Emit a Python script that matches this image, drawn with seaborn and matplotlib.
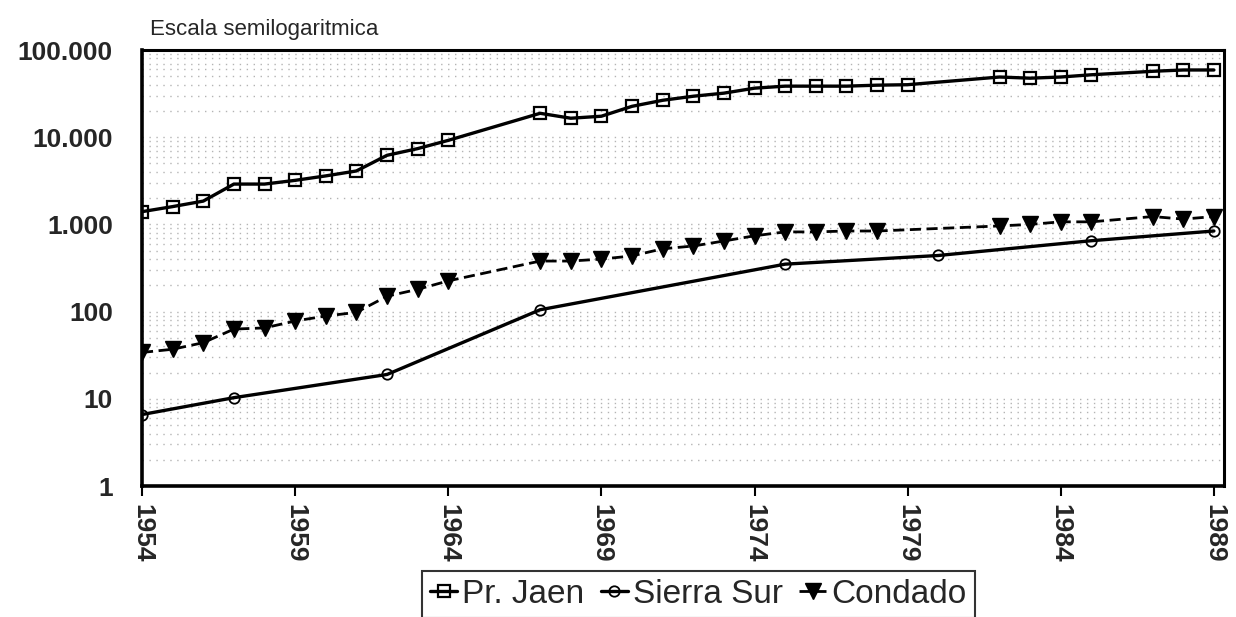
import numpy as np
import pandas as pd
import matplotlib
matplotlib.use("Agg")
import matplotlib.pyplot as plt
import seaborn as sns
from matplotlib.ticker import FixedLocator, LogLocator, NullFormatter

nan = np.nan
years = list(range(1954, 1990))
pr_jaen = [1400, 1600, 1850, 2900, 2900, 3200, 3600, 4100, 6200, 7400, 9200, nan,
           nan, 18800, 16500, 17400, 22600, 26500, 29500, 32000, 36500, 38500, 38500,
           38500, 39500, 40000, nan, nan, 49000, 47500, 49000, 52000, nan, 57000,
           59000, 59000]
sierra_sur = [6.6, nan, nan, 10.3, nan, nan, nan, nan, 19, nan, nan, nan,
              nan, 105, nan, nan, nan, nan, nan, nan, nan, 350, nan,
              nan, nan, nan, 440, nan, nan, nan, nan, 650, nan, nan,
              nan, 840]
condado = [34, 37, 44, 63, 65, 78, 89, 98, 150, 180, 225, nan,
           nan, 380, 380, 400, 435, 525, 565, 645, 740, 820, 820,
           840, 840, nan, nan, nan, 960, 1000, 1070, 1070, nan, 1230,
           1150, 1230]
series_names = ["Pr. Jaen", "Sierra Sur", "Condado"]
y_ticks = [1, 10, 100, 1000, 10000, 100000]
y_tick_labels = ["1", "10", "100", "1.000", "10.000", "100.000"]
x_ticks = [1954, 1959, 1964, 1969, 1974, 1979, 1984, 1989]
title_text = "Escala semilogaritmica"

sns.set_style("white")
plt.rcParams["font.family"] = ["Liberation Sans", "DejaVu Sans"]

fig = plt.figure(figsize=(12.36, 6.17), dpi=100)
ax = fig.add_axes([142 / 1236, 1 - 486 / 617, (1224 - 142) / 1236, (486 - 50) / 617])

styles = {
    "Pr. Jaen": dict(marker="s", ms=8.5, mfc="none", mec="black", mew=1.6,
                     lw=2.4, ls="-"),
    "Sierra Sur": dict(marker="o", ms=7.5, mfc="none", mec="black", mew=1.3,
                       lw=2.4, ls="-"),
    "Condado": dict(marker="v", ms=11, mfc="black", mec="black", mew=1,
                    lw=2.0, ls=(0, (4, 2))),
}
for name, vals in zip(series_names, [pr_jaen, sierra_sur, condado]):
    df = pd.DataFrame({"Año": years, "Valor": vals}).dropna()
    sns.lineplot(data=df, x="Año", y="Valor", ax=ax, color="black",
                 label=name, legend=False, **styles[name])

ax.set_yscale("log")
ax.set_ylim(1, 100000)
ax.set_xlim(1954, 1989.33)
ax.yaxis.set_major_locator(FixedLocator(y_ticks))
ax.set_yticklabels(y_tick_labels)
ax.yaxis.set_minor_locator(LogLocator(base=10, subs=range(2, 10)))
ax.yaxis.set_minor_formatter(NullFormatter())
ax.set_xticks(x_ticks)
ax.set_xticklabels([str(x) for x in x_ticks], rotation=-90)
ax.set_xlabel("")
ax.set_ylabel("")

ax.grid(False)
ax.yaxis.grid(True, which="both", color="#b4b4b4", ls=(0, (1, 4)), lw=1.0)
ax.tick_params(axis="y", which="major", length=0, pad=21, labelsize=19)
ax.tick_params(axis="y", which="minor", length=0)
ax.tick_params(axis="x", which="major", length=7, width=1.5, direction="out",
               pad=6, labelsize=19, color="black", bottom=True)
for lab in ax.get_yticklabels() + ax.get_xticklabels():
    lab.set_fontweight("bold")
for side, lw in [("left", 2.6), ("bottom", 2.6), ("top", 2.2), ("right", 2.2)]:
    ax.spines[side].set_visible(True)
    ax.spines[side].set_color("black")
    ax.spines[side].set_linewidth(lw)

fig.text(150 / 1236, 1 - 30 / 617, title_text, fontsize=16, ha="left", va="center")

handles, labels = ax.get_legend_handles_labels()
leg = fig.legend(handles, labels, loc="upper center", bbox_to_anchor=(0.565, 0.075),
                 ncol=3, fontsize=24, frameon=True, fancybox=False,
                 edgecolor="black", handlelength=0.8, handletextpad=0.15,
                 columnspacing=0.5, borderpad=0.25, borderaxespad=0)
leg.get_frame().set_linewidth(1.5)

fig.savefig("out.png", dpi=100)
